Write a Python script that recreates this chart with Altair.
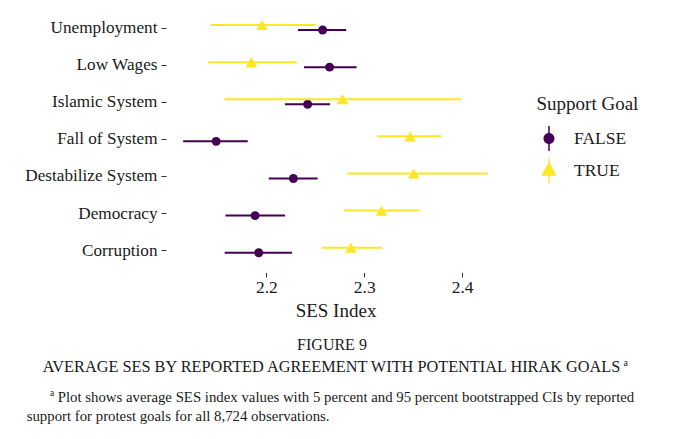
import altair as alt
import pandas as pd

# ---- data ----
goals = ["Unemployment", "Low Wages", "Islamic System", "Fall of System",
         "Destabilize System", "Democracy", "Corruption"]
false_mean = [2.2575, 2.2646, 2.2422, 2.1487, 2.2276, 2.1885, 2.1922]
false_lo   = [2.2323, 2.2385, 2.2190, 2.1150, 2.2024, 2.1582, 2.1574]
false_hi   = [2.2816, 2.2922, 2.2650, 2.1810, 2.2524, 2.2191, 2.2262]
true_mean  = [2.1956, 2.1847, 2.2779, 2.3470, 2.3507, 2.3177, 2.2864]
true_lo    = [2.1436, 2.1401, 2.1571, 2.3130, 2.2827, 2.2796, 2.2568]
true_hi    = [2.2507, 2.2313, 2.3990, 2.3790, 2.4262, 2.3568, 2.3184]
x_ticks = [2.2, 2.3, 2.4]
support_levels = ["FALSE", "TRUE"]
palette = ["#440154", "#FDE725"]

caption_fig = "FIGURE 9"
caption_title = "AVERAGE SES BY REPORTED AGREEMENT WITH POTENTIAL HIRAK GOALS"
foot1 = "Plot shows average SES index values with 5 percent and 95 percent bootstrapped CIs by reported"
foot2 = "support for protest goals for all 8,724 observations."

FONT = "Liberation Serif"
TXT = "#1a1a1a"

rows = []
for g, m, lo, hi in zip(goals, false_mean, false_lo, false_hi):
    rows.append({"goal": g, "support": "FALSE", "mean": m, "lo": lo, "hi": hi})
for g, m, lo, hi in zip(goals, true_mean, true_lo, true_hi):
    rows.append({"goal": g, "support": "TRUE", "mean": m, "lo": lo, "hi": hi})
df = pd.DataFrame(rows)

W, H = 335, 264.5

xscale = alt.Scale(domain=[2.0995, 2.4418], nice=False, zero=False)
yscale = alt.Scale(type="point", domain=goals, padding=0.563, align=0.467)
cscale = alt.Scale(domain=support_levels, range=palette)

path_false = ("M-0.06,-1L0.06,-1L0.06,1L-0.06,1Z "
              "M0.44,0A0.44,0.44,0,1,1,-0.44,0A0.44,0.44,0,1,1,0.44,0Z")
path_true = ("M-0.06,-1L0.06,-1L0.06,1L-0.06,1Z "
             "M0,-0.75L0.62,0.38L-0.62,0.38Z")
sscale = alt.Scale(domain=support_levels, range=[path_false, path_true])

xaxis = alt.Axis(values=x_ticks, format=".1f", grid=False, domain=False,
                 ticks=True, tickSize=4.5, tickColor="#333", tickWidth=1,
                 labelFont=FONT, labelFontSize=17.4, labelColor=TXT,
                 labelPadding=1, title="SES Index", titleFont=FONT,
                 titleFontSize=19, titleFontWeight="normal", titleColor=TXT,
                 titlePadding=6)
yaxis = alt.Axis(grid=False, domain=False, ticks=True, tickSize=5,
                 tickColor="#333", tickWidth=1, labelFont=FONT,
                 labelFontSize=17.2, labelColor=TXT, labelPadding=4,
                 offset=2, title=None)

base = alt.Chart(df).encode(
    y=alt.Y("goal:N", scale=yscale, sort=goals, axis=yaxis),
)

layers = []
for lvl, col, off, shape, size in [("FALSE", palette[0], 2.5, "circle", 80),
                                   ("TRUE", palette[1], -2.5, "triangle-up", 137)]:
    sub = base.transform_filter(alt.datum.support == lvl)
    layers.append(
        sub.mark_rule(strokeWidth=2, yOffset=off, color=col).encode(
            x=alt.X("lo:Q", scale=xscale, axis=xaxis),
            x2="hi:Q",
        )
    )
    layers.append(
        sub.mark_point(shape=shape, filled=True, size=size, opacity=1,
                       yOffset=off, color=col).encode(
            x=alt.X("mean:Q", scale=xscale, axis=xaxis),
        )
    )

legend = alt.Legend(title="Support Goal", orient="none", legendX=368.5,
                    legendY=87, titleFont=FONT, titleFontSize=19,
                    titleFontWeight="normal", titleColor=TXT,
                    titlePadding=12, labelFont=FONT, labelFontSize=17.5,
                    labelColor=TXT, labelOffset=12.5, symbolSize=625,
                    symbolStrokeWidth=0, symbolOpacity=1, rowPadding=7.5)

dummy = base.mark_point(filled=True, opacity=0, size=1).encode(
    x=alt.X("mean:Q", scale=xscale, axis=xaxis),
    color=alt.Color("support:N", scale=cscale, legend=legend),
    shape=alt.Shape("support:N", scale=sscale, legend=legend),
)
layers.append(dummy)


def txt(s, x, y, size, align="left"):
    return alt.Chart(pd.DataFrame({"t": [s]})).mark_text(
        font=FONT, fontSize=size, color=TXT, align=align,
        baseline="alphabetic").encode(
        text="t:N", x=alt.value(x), y=alt.value(y))


layers += [
    txt(caption_fig, 164, 342, 16, "center"),
    txt(caption_title, -125.3, 364, 16.3),
    txt("a", 455.5, 358, 10),
    txt("a", -118, 388, 9.5),
    txt(foot1, -110.3, 393.7, 14.8),
    txt(foot2, -141.3, 412.7, 14.8),
]

chart = alt.layer(*layers).properties(
    width=W, height=H,
    background="white",
    autosize=alt.AutoSizeParams(type="none"),
    padding={"left": 160, "top": 0, "right": 664 - 160 - W,
             "bottom": 423 - H},
).configure_view(strokeWidth=0, stroke="transparent")

chart.save("out.html", embed_options={"renderer": "svg", "actions": False})
